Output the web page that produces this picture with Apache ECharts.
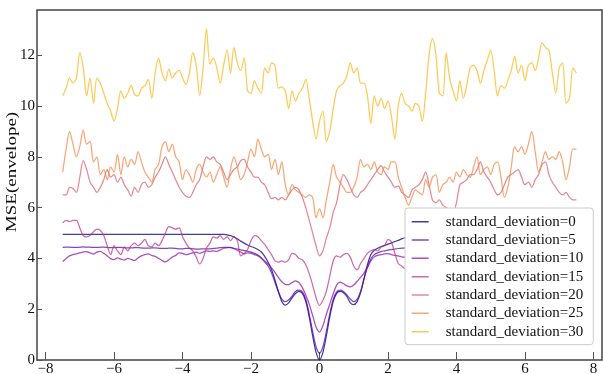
<!DOCTYPE html>
<html>
<head>
<meta charset="utf-8">
<title>MSE(envelope)</title>
<script src="https://cdn.jsdelivr.net/npm/echarts@6/dist/echarts.min.js"></script>
<style>
  html, body { margin: 0; padding: 0; background: #fff; }
  #chart { width: 603px; height: 374px; }
</style>
</head>
<body>
<div id="chart"></div>
<script>
// sample positions along the horizontal axis
const xs = [
  -7.5,-7.4,-7.3,-7.2,-7.1,-7.0,-6.9,-6.8,-6.7,-6.6,
  -6.5,-6.4,-6.3,-6.2,-6.1,-6.0,-5.9,-5.8,-5.7,-5.6,
  -5.5,-5.4,-5.3,-5.2,-5.1,-5.0,-4.9,-4.8,-4.7,-4.6,
  -4.5,-4.4,-4.3,-4.2,-4.1,-4.0,-3.9,-3.8,-3.7,-3.6,
  -3.5,-3.4,-3.3,-3.2,-3.1,-3.0,-2.9,-2.8,-2.7,-2.6,
  -2.5,-2.4,-2.3,-2.2,-2.1,-2.0,-1.9,-1.8,-1.7,-1.6,
  -1.5,-1.4,-1.3,-1.2,-1.1,-1.0,-0.9,-0.8,-0.7,-0.6,
  -0.5,-0.4,-0.3,-0.2,-0.1,0.0,0.1,0.2,0.3,0.4,
  0.5,0.6,0.7,0.8,0.9,1.0,1.1,1.2,1.3,1.4,
  1.5,1.6,1.7,1.8,1.9,2.0,2.1,2.2,2.3,2.4,
  2.5,2.6,2.7,2.8,2.9,3.0,3.1,3.2,3.3,3.4,
  3.5,3.6,3.7,3.8,3.9,4.0,4.1,4.2,4.3,4.4,
  4.5,4.6,4.7,4.8,4.9,5.0,5.1,5.2,5.3,5.4,
  5.5,5.6,5.7,5.8,5.9,6.0,6.1,6.2,6.3,6.4,
  6.5,6.6,6.7,6.8,6.9,7.0,7.1,7.2,7.3,7.4,
  7.5
];

const sd0 = [
  4.95,4.95,4.95,4.95,4.95,4.95,4.95,4.95,4.95,4.95,
  4.95,4.95,4.95,4.95,4.95,4.95,4.95,4.95,4.95,4.95,
  4.95,4.95,4.95,4.95,4.95,4.95,4.95,4.95,4.95,4.95,
  4.95,4.95,4.95,4.95,4.95,4.95,4.95,4.95,4.95,4.95,
  4.95,4.95,4.95,4.95,4.95,4.95,4.95,4.95,4.93,4.9,
  4.85,4.77,4.68,4.6,4.53,4.47,4.42,4.35,4.25,4.08,
  3.85,3.55,3.15,2.7,2.3,2.16,2.25,2.45,2.62,2.7,
  2.62,2.3,1.7,0.95,0.3,0.0,0.3,0.95,1.7,2.3,
  2.62,2.7,2.65,2.5,2.25,2.18,2.3,2.65,3.2,3.75,
  4.15,4.32,4.4,4.46,4.51,4.56,4.61,4.66,4.71,4.77,
  4.82,4.87,4.91,4.94,4.95,4.95,4.95,4.95,4.95,4.95,
  4.95,4.95,4.95,4.95,4.95,4.95,4.95,4.95,4.95,4.95,
  4.95,4.95,4.95,4.95,4.95,4.95,4.95,4.95,4.95,4.95,
  4.95,4.95,4.95,4.95,4.95,4.95,4.95,4.95,4.95,4.95,
  4.95,4.95,4.95,4.95,4.95,4.95,4.95,4.95,4.95,4.95,
  4.95
];

const sd5 = [
  4.43,4.44,4.44,4.43,4.43,4.44,4.45,4.44,4.44,4.43,
  4.43,4.44,4.44,4.43,4.42,4.42,4.43,4.43,4.42,4.41,
  4.41,4.42,4.42,4.41,4.4,4.4,4.41,4.41,4.4,4.39,
  4.39,4.4,4.4,4.39,4.38,4.38,4.39,4.39,4.38,4.37,
  4.37,4.38,4.38,4.38,4.39,4.4,4.42,4.43,4.43,4.42,
  4.4,4.37,4.34,4.31,4.28,4.25,4.2,4.13,4.02,3.86,
  3.7,3.42,3.05,2.68,2.4,2.3,2.36,2.52,2.7,2.75,
  2.68,2.38,1.82,1.12,0.52,0.26,0.52,1.12,1.82,2.38,
  2.68,2.75,2.7,2.56,2.4,2.3,2.4,2.7,3.2,3.65,
  3.98,4.15,4.22,4.27,4.3,4.33,4.35,4.37,4.39,4.4,
  4.41,4.42,4.43,4.43,4.42,4.41,4.4,4.4,4.41,4.42,
  4.42,4.43,4.43,4.42,4.41,4.41,4.42,4.42,4.43,4.44,
  4.44,4.43,4.42,4.42,4.43,4.43,4.44,4.44,4.43,4.42,
  4.42,4.43,4.44,4.44,4.43,4.42,4.42,4.43,4.44,4.44,
  4.43,4.42,4.43,4.44,4.44,4.43,4.43,4.42,4.43,4.43,
  4.43
];

const sd10 = [
  3.88,4.0,4.1,4.15,4.18,4.22,4.25,4.27,4.22,4.17,
  4.25,4.28,4.2,4.1,3.99,3.95,4.02,3.97,3.93,4.0,
  3.96,3.92,4.02,4.1,4.15,4.18,4.12,4.08,4.0,3.92,
  3.86,3.95,4.05,4.12,4.22,4.2,4.15,4.18,4.22,4.25,
  4.2,4.25,4.3,4.27,4.3,4.28,4.33,4.4,4.42,4.43,
  4.38,4.32,4.25,4.18,4.22,4.2,4.15,4.1,4.0,3.9,
  3.78,3.62,3.45,3.25,3.08,2.98,2.97,3.05,3.12,3.05,
  2.85,2.55,2.2,1.75,1.3,1.1,1.35,1.8,2.2,2.6,
  2.95,3.07,3.0,2.92,2.88,2.95,3.1,3.25,3.42,3.65,
  3.9,4.06,4.12,4.15,4.18,4.19,4.15,4.12,4.1,4.06,
  4.05,4.08,4.12,4.18,4.2,4.15,4.1,4.05,4.0,4.05,
  4.12,4.18,4.22,4.2,4.15,4.1,4.12,4.18,4.25,4.28,
  4.22,4.15,4.08,4.02,3.98,4.02,4.1,4.15,4.2,4.18,
  4.12,4.05,4.0,3.95,4.0,4.08,4.15,4.2,4.25,4.22,
  4.18,4.1,4.05,4.12,4.2,4.25,4.2,4.1,4.0,3.92,
  3.88
];

const sd15 = [
  5.4,5.5,5.45,5.5,5.5,5.2,4.9,4.85,4.9,5.05,
  5.15,5.1,4.9,4.5,4.15,4.5,4.3,4.15,4.45,4.3,
  4.5,4.6,4.5,4.6,4.75,4.5,4.45,4.6,4.5,4.7,
  5.0,5.25,5.2,5.15,5.2,4.85,4.6,4.4,4.3,4.05,
  3.78,4.0,4.4,4.6,4.85,4.8,4.9,4.75,4.85,4.7,
  4.85,4.7,4.1,4.2,4.35,4.7,4.9,4.85,4.7,4.55,
  4.35,4.15,3.9,3.85,3.9,3.85,3.95,4.2,4.15,4.0,
  3.95,3.75,3.4,2.95,2.45,2.15,2.35,2.7,3.3,3.9,
  4.1,4.05,4.15,4.2,4.05,3.7,3.55,3.8,4.0,4.2,
  4.3,4.35,4.3,4.45,4.5,4.75,4.65,4.2,3.8,3.7,
  3.6,3.7,3.9,4.2,4.5,4.4,4.6,4.8,4.6,4.3,
  4.5,4.9,5.1,4.9,4.6,4.4,4.2,4.5,4.7,4.5,
  4.3,4.4,4.8,5.0,4.9,4.6,4.5,4.7,4.4,4.2,
  4.4,4.6,4.8,4.5,4.3,4.5,4.7,4.9,5.1,5.2,
  5.0,4.8,4.9,5.1,5.3,5.4,5.2,5.3,5.4,5.3,
  5.4
];

const sd20 = [
  6.5,6.5,6.8,6.75,6.6,7.2,7.85,7.5,7.0,6.8,
  6.6,6.8,7.1,7.5,7.2,7.3,7.0,7.2,6.9,6.7,
  6.45,6.8,6.6,6.9,7.0,6.8,6.9,7.2,7.4,7.7,
  8.0,7.7,7.4,7.1,6.8,6.6,6.45,6.4,6.6,6.9,
  7.1,7.6,8.0,7.9,8.0,7.8,7.7,7.4,7.1,7.3,
  7.5,7.6,7.85,7.9,7.6,7.4,7.2,7.2,7.0,6.9,
  6.6,6.35,6.4,6.3,6.4,6.3,6.5,6.7,6.8,6.7,
  6.4,6.0,5.5,5.0,4.5,4.1,4.3,4.8,5.2,5.8,
  6.2,6.9,7.3,7.1,6.8,6.5,6.4,6.6,6.7,6.9,
  7.1,7.3,7.5,7.65,7.4,7.2,7.0,6.8,6.85,6.6,
  6.5,6.4,6.7,6.8,6.9,7.1,7.4,6.9,6.3,6.2,
  6.3,6.1,6.0,5.9,5.8,6.2,6.9,7.0,7.1,7.3,
  7.3,7.5,7.8,7.4,7.2,7.0,6.7,6.5,6.6,6.9,
  7.2,7.3,7.4,7.5,7.2,6.9,7.0,6.8,7.1,7.3,
  7.7,7.8,7.3,7.0,6.8,6.6,6.5,6.6,6.4,6.3,
  6.3
];

const sd25 = [
  7.4,8.3,9.0,8.5,8.0,8.4,9.05,8.5,8.6,7.8,
  8.0,7.3,7.5,7.1,7.6,7.4,8.1,7.3,8.0,7.6,
  7.9,7.7,8.2,7.8,7.4,7.2,7.0,7.5,7.7,8.4,
  8.6,8.2,8.5,8.0,7.8,7.1,7.5,7.3,7.0,7.5,
  7.7,7.4,7.2,7.4,7.0,7.3,7.6,7.2,6.8,7.5,
  8.0,7.6,7.1,7.3,7.8,8.3,8.0,8.7,8.3,8.0,
  8.1,7.5,7.9,7.3,7.8,6.9,6.5,6.9,6.7,6.6,
  6.5,6.4,6.5,6.4,5.6,5.95,5.6,6.3,7.0,7.7,
  7.2,7.0,6.8,6.6,6.6,6.8,7.2,7.9,7.6,7.7,
  7.5,7.8,7.4,7.3,7.6,7.5,7.8,7.8,7.2,6.8,
  6.4,6.1,6.4,6.7,6.6,6.5,7.1,6.8,7.2,7.3,
  6.6,6.9,7.0,7.2,7.0,7.4,7.2,7.5,7.3,7.2,
  7.6,8.0,7.3,7.5,7.6,7.3,7.7,7.8,7.2,6.4,
  6.8,7.6,8.4,8.2,8.4,8.1,8.5,9.0,8.2,7.4,
  7.8,8.2,7.9,8.0,7.9,8.2,7.8,7.1,7.6,8.3,
  8.3
];

const sd30 = [
  10.4,10.7,11.1,10.9,11.1,12.1,11.5,10.4,11.1,10.1,
  11.1,10.9,10.5,10.1,9.8,9.4,9.9,10.6,10.3,10.5,
  10.8,10.45,10.4,10.7,10.8,11.05,10.3,11.3,11.9,11.3,
  11.0,11.45,11.1,11.3,11.4,11.1,10.85,11.3,12.1,11.6,
  10.4,11.5,13.05,11.65,11.9,11.5,10.9,11.6,12.2,11.3,
  12.3,11.7,11.4,11.9,10.6,10.5,11.0,10.7,10.5,11.5,
  11.3,11.7,11.6,10.7,10.75,10.6,9.9,10.6,10.2,10.5,
  10.7,11.05,10.3,9.4,8.7,9.4,9.8,8.6,9.0,9.9,
  10.6,10.8,10.9,11.2,11.7,11.3,11.5,10.9,10.9,10.4,
  9.3,10.4,10.0,10.3,9.9,10.2,9.6,8.7,10.0,10.5,
  10.1,10.0,9.8,10.1,10.0,9.4,10.5,12.0,12.65,12.0,
  10.5,10.4,12.1,11.1,10.6,10.2,11.0,10.3,10.8,11.5,
  11.6,11.4,10.9,11.4,11.8,12.2,11.4,10.4,10.8,10.7,
  11.0,11.4,11.95,11.3,11.6,11.0,11.6,11.7,11.4,11.9,
  12.5,12.3,12.2,11.3,10.5,11.5,11.7,10.1,10.3,11.5,
  11.3
];

const seriesNames = [
  'standard_deviation=0', 'standard_deviation=5', 'standard_deviation=10',
  'standard_deviation=15', 'standard_deviation=20', 'standard_deviation=25',
  'standard_deviation=30'
];
const seriesValues = [sd0, sd5, sd10, sd15, sd20, sd25, sd30];

const xTicks = [-8, -6, -4, -2, 0, 2, 4, 6, 8];
const yTicks = [0, 2, 4, 6, 8, 10, 12];
const yTitle = 'MSE(envelope)';

// plasma colormap, sampled at i/7, drawn slightly translucent
const palette = [
  'rgba(13,8,135,0.78)', 'rgba(83,2,163,0.72)', 'rgba(139,10,165,0.72)',
  'rgba(184,50,137,0.72)', 'rgba(219,92,104,0.72)', 'rgba(244,136,73,0.75)',
  'rgba(254,189,42,0.8)'
];

const FONT = '"Liberation Serif", "Times New Roman", serif';
const minus = v => String(v).replace('-', '\u2212');

const series = seriesNames.map((name, k) => ({
  name: name,
  type: 'line',
  data: xs.map((x, i) => [x, seriesValues[k][i]]),
  showSymbol: false,
  symbol: 'none',
  smooth: 0.3,
  lineStyle: { width: 1.25, color: palette[k] },
  itemStyle: { color: palette[k] },
  emphasis: { disabled: true }
}));

const chart = echarts.init(document.getElementById('chart'), null, { renderer: 'canvas' });
chart.setOption({
  animation: false,
  backgroundColor: '#ffffff',
  grid: {
    left: 37, right: 1, top: 10, bottom: 14,
    outerBoundsMode: 'none',
    containLabel: false,
    show: true, borderColor: '#444', borderWidth: 1.5, backgroundColor: 'transparent'
  },
  // vertical axis title, slightly condensed across the glyphs
  graphic: [{
    type: 'text',
    x: 12.5, y: 172,
    rotation: Math.PI / 2,
    scaleY: 0.78,
    silent: true,
    style: {
      text: yTitle,
      font: '19px ' + FONT,
      fill: '#111',
      align: 'center',
      verticalAlign: 'middle'
    }
  }],
  xAxis: {
    type: 'value',
    min: -8.25, max: 8.25,
    axisLine: { show: false, onZero: false },
    splitLine: { show: false },
    axisTick: {
      show: true, inside: true, length: 8,
      lineStyle: { color: '#555', width: 1 },
      customValues: xTicks
    },
    axisLabel: {
      customValues: xTicks,
      formatter: minus,
      margin: 2,
      fontFamily: FONT, fontSize: 15, color: '#111', lineHeight: 15
    }
  },
  yAxis: {
    type: 'value',
    min: 0, max: 13.78,
    axisLine: { show: false, onZero: false },
    splitLine: { show: false },
    axisTick: {
      show: true, inside: true, length: 5,
      lineStyle: { color: '#555', width: 1 },
      customValues: yTicks
    },
    axisLabel: {
      customValues: yTicks,
      margin: 2,
      fontFamily: FONT, fontSize: 15, color: '#111'
    }
  },
  legend: {
    data: seriesNames,
    orient: 'vertical',
    left: 405, top: 208,
    padding: [4.7, 10, 4, 6.7],
    itemGap: 0.33,
    itemWidth: 29, itemHeight: 1.5,
    icon: 'path://M0,0H17V1.5H0Z M29,0H29.01V1.5H29Z',
    itemStyle: { borderWidth: 0 },
    backgroundColor: '#ffffff',
    borderColor: '#cccccc', borderWidth: 1, borderRadius: 3,
    selectedMode: false,
    textStyle: { fontFamily: FONT, fontSize: 15, color: '#111', lineHeight: 18 }
  },
  series: series
});
</script>
</body>
</html>
